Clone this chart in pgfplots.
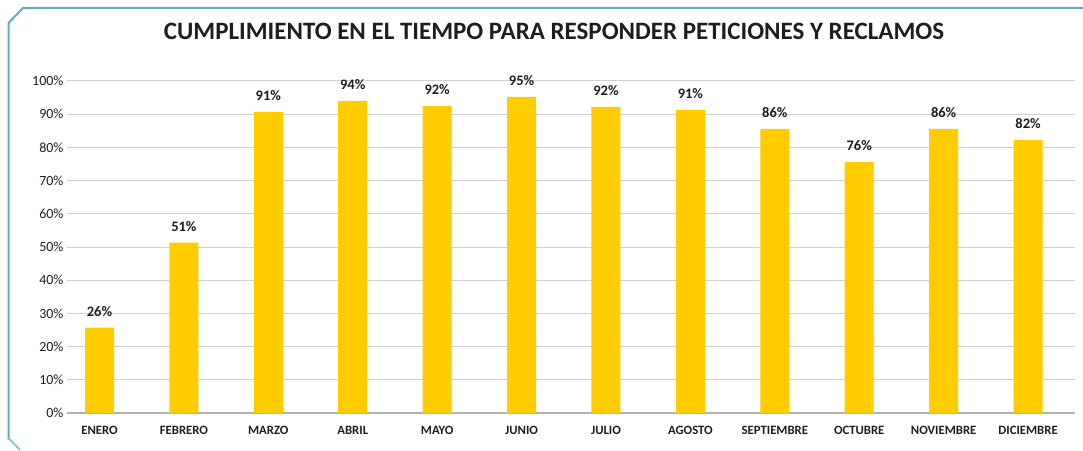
\documentclass[border=0pt]{standalone}
\usepackage{fontspec}
\setmainfont{Carlito}
\usepackage{pgfplots}
\pgfplotsset{compat=1.18}
\definecolor{barc}{HTML}{FFCC00}
\definecolor{frame}{HTML}{5AAFBA}
\definecolor{gridc}{HTML}{D0D0D0}
\definecolor{txt}{HTML}{1E1E1E}
\begin{document}
\begin{tikzpicture}[x=1pt,y=1pt]
\useasboundingbox (0,0) rectangle (1083,450);
\draw[frame, line width=2pt] (8.5,10) -- (8.5,427) -- (23,442) -- (1083,442);
\draw[frame!70, line width=2pt] (8.5,12) -- (20,0);
\node[font=\bfseries\fontsize{25}{30}\selectfont, text=txt] at (554,419) {CUMPLIMIENTO EN EL TIEMPO PARA RESPONDER PETICIONES Y RECLAMOS};
\begin{axis}[
  at={(67pt,37pt)}, anchor=south west,
  scale only axis, width=1008pt, height=332pt,
  ymin=0, ymax=100, xmin=-0.385, xmax=11.556,
  ytick={0,10,...,100},
  yticklabel={\pgfmathprintnumber{\tick}\%},
  /pgf/number format/assume math mode=true,
  yticklabel style={font=\fontsize{14}{16}\selectfont, text=txt},
  xtick={0,...,11},
  xticklabels={ENERO,FEBRERO,MARZO,ABRIL,MAYO,JUNIO,JULIO,AGOSTO,SEPTIEMBRE,OCTUBRE,NOVIEMBRE,DICIEMBRE},
  xticklabel style={font=\bfseries\fontsize{12.7}{14}\selectfont, text=txt, yshift=-10pt},
  major tick length=0pt,
  ymajorgrids, grid style={gridc, line width=1pt},
  axis x line*=bottom, axis y line*=left,
  y axis line style={draw=none},
  x axis line style={draw=gray!60, line width=2pt, -},
  ybar, bar width=29pt,
  nodes near coords={\pgfmathprintnumber[fixed,precision=0]{\pgfplotspointmeta}\%},
  nodes near coords style={font=\bfseries\fontsize{14.5}{16}\selectfont, text=txt, /pgf/number format/assume math mode=true, yshift=8pt},
  clip=false,
]
\addplot[fill=barc, draw=none] coordinates {
(0,25.7) (1,51.3) (2,90.7) (3,94.0) (4,92.4) (5,95.2) (6,92.2) (7,91.3) (8,85.6) (9,75.6) (10,85.6) (11,82.2)
};
\end{axis}
\end{tikzpicture}
\end{document}
